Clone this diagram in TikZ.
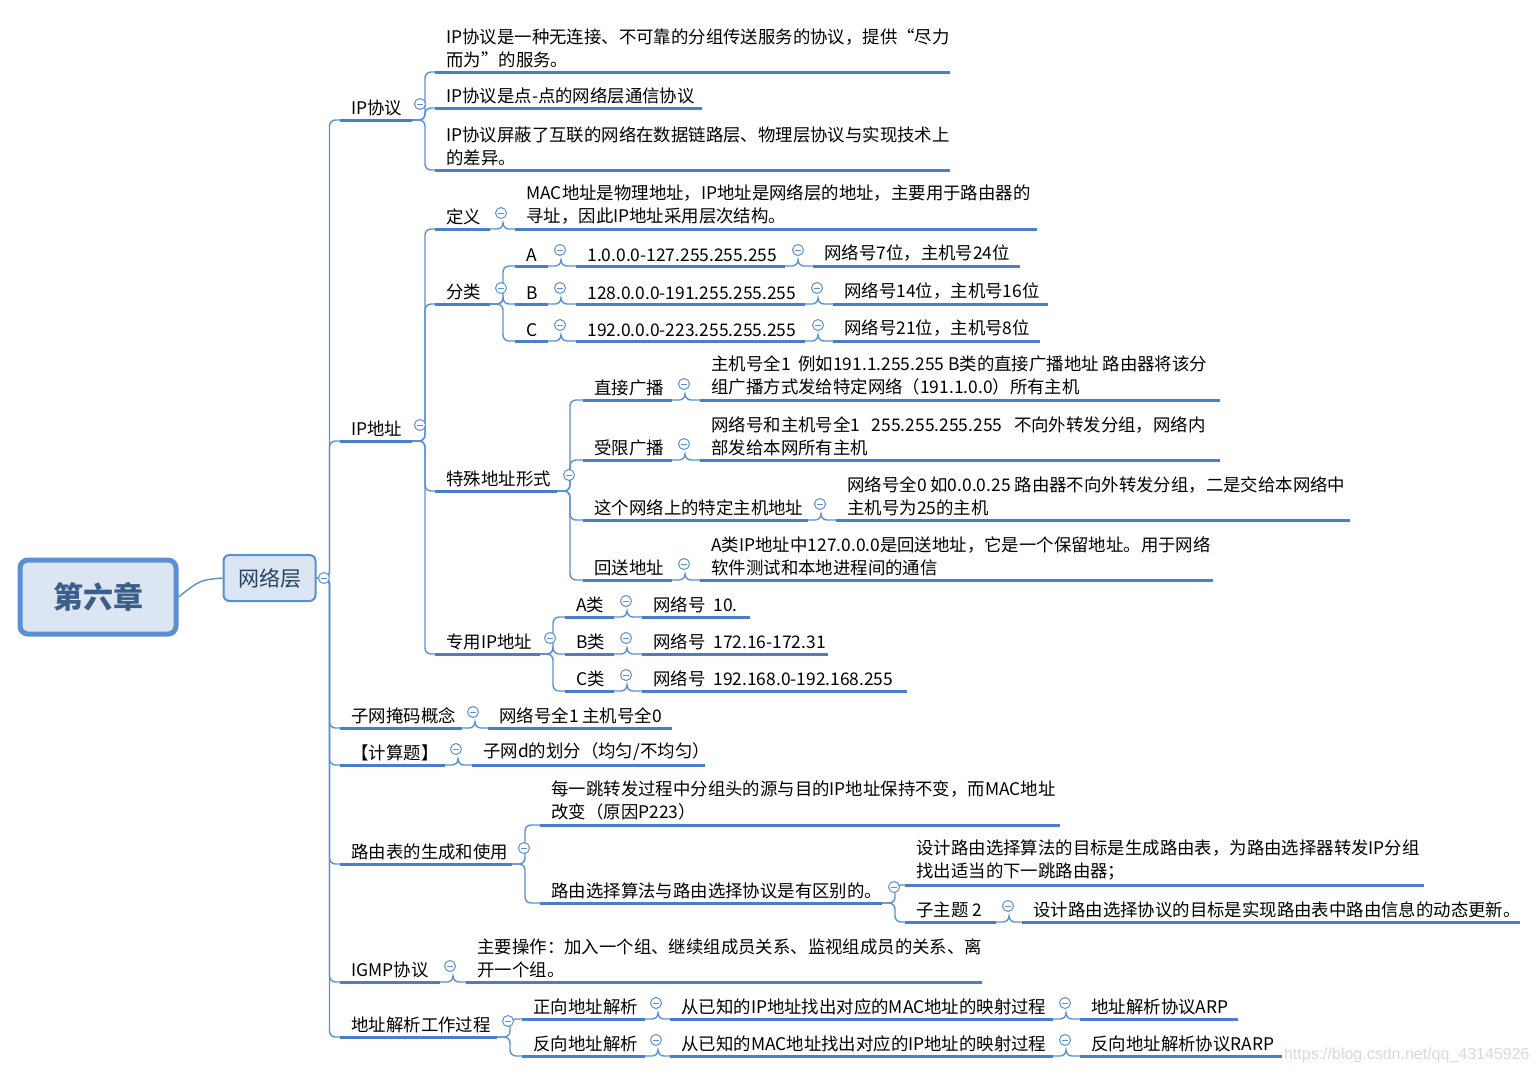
\documentclass[tikz,border=0pt]{standalone}
\usepackage{fontspec}
\setmainfont{Noto Sans CJK SC}
\newfontfamily\wmfont{Liberation Sans}
\usetikzlibrary{calc}
\definecolor{lineblue}{HTML}{5B8FD3}
\definecolor{ulblue}{HTML}{4A7EC8}
\definecolor{boxfill}{HTML}{DCE6F2}
\definecolor{titleblue}{HTML}{3B5E8C}
\tikzset{
  uline/.style={ulblue,line width=1.5pt},
  branch/.style={lineblue,line width=0.7pt,rounded corners=3pt},
  txt/.style={inner sep=0pt,anchor=south west,align=left,font=\fontsize{8.7}{11.5}\selectfont},
  coll/.style={circle,draw=lineblue,fill=white,inner sep=0pt,minimum size=5.5pt,line width=0.5pt,
    path picture={\draw[lineblue,line width=0.5pt] ([xshift=-1.4pt]path picture bounding box.center) -- ([xshift=1.4pt]path picture bounding box.center);}}
}
% topic: name, start, end, underline y, text
\newcommand\tp[5]{%
  \coordinate (#1-s) at (#2,#4);
  \coordinate (#1-e) at (#3,#4);
  \draw[uline] (#1-s) -- (#1-e);
  \node[txt] (#1) at (#2+11,#4-4) {#5};}
\newcommand\br[2]{\draw[branch] (#1-e) -- ++(13,0) |- (#2-s);}
\newcommand\cl[3]{\node[coll] (#1-c) at (#2,#3-16) {};}
\begin{document}
\begin{tikzpicture}[x=0.5pt,y=-0.5pt]
\useasboundingbox (0,0) rectangle (1540,1073);

% root and main topic
\node[draw=lineblue,line width=2.5pt,fill=boxfill,rounded corners=4pt,minimum width=78pt,minimum height=37pt,
  font=\fontsize{15}{15}\selectfont\bfseries,text=titleblue] (root) at (98,597) {第六章};
\node[draw=lineblue,line width=1pt,fill=boxfill,rounded corners=3pt,minimum width=46pt,minimum height=23pt,
  font=\fontsize{10.5}{10.5}\selectfont,text=titleblue!70!black] (net) at (269.5,578) {网络层};
\coordinate (net-e) at (net.east);
\draw[branch] (root.east) .. controls (200,580) .. (net.west);

% first level
\tp{ipp}{340}{412}{120}{IP协议}
\tp{ipa}{340}{412}{441}{IP地址}
\tp{mask}{340}{462}{728}{子网掩码概念}
\tp{calc}{340}{445}{765}{【计算题】}
\tp{rt}{340}{512}{864}{路由表的生成和使用}
\tp{igmp}{340}{440}{982}{IGMP协议}
\tp{arp}{340}{497}{1037}{地址解析工作过程}
\foreach \c in {ipp,ipa,mask,calc,rt,igmp,arp} {\br{net}{\c}}

% IP协议
\tp{p1}{435}{950}{72}{IP协议是一种无连接、不可靠的分组传送服务的协议，提供“尽力\\而为”的服务。}
\tp{p2}{435}{702}{108}{IP协议是点-点的网络层通信协议}
\tp{p3}{435}{950}{170}{IP协议屏蔽了互联的网络在数据链路层、物理层协议与实现技术上\\的差异。}
\foreach \c in {p1,p2,p3} {\br{ipp}{\c}}

% IP地址
\tp{def}{435}{490}{229}{定义}
\tp{cls}{435}{490}{304}{分类}
\tp{spc}{435}{557}{491}{特殊地址形式}
\tp{pri}{435}{540}{654}{专用IP地址}
\foreach \c in {def,cls,spc,pri} {\br{ipa}{\c}}
\tp{defd}{515}{1037}{229}{MAC地址是物理地址，IP地址是网络层的地址，主要用于路由器的\\寻址，因此IP地址采用层次结构。}
\br{def}{defd}

% 分类
\tp{ca}{515}{548}{266}{A}
\tp{cb}{515}{548}{304}{B}
\tp{cc}{515}{548}{341}{C}
\foreach \c in {ca,cb,cc} {\br{cls}{\c}}
\tp{ra}{576}{785}{266}{1.0.0.0-127.255.255.255}
\tp{rb}{576}{805}{304}{128.0.0.0-191.255.255.255}
\tp{rc}{576}{805}{341}{192.0.0.0-223.255.255.255}
\br{ca}{ra} \br{cb}{rb} \br{cc}{rc}
\tp{da}{813}{1020}{266}{网络号7位，主机号24位}
\tp{db}{833}{1048}{304}{网络号14位，主机号16位}
\tp{dc}{833}{1040}{341}{网络号21位，主机号8位}
\br{ra}{da} \br{rb}{db} \br{rc}{dc}

% 特殊地址形式
\tp{zb}{583}{672}{400}{直接广播}
\tp{xz}{583}{672}{460}{受限广播}
\tp{tz}{583}{808}{520}{这个网络上的特定主机地址}
\tp{hs}{583}{672}{580}{回送地址}
\foreach \c in {zb,xz,tz,hs} {\br{spc}{\c}}
\tp{zbd}{700}{1220}{400}{主机号全1\ \ 例如191.1.255.255 B类的直接广播地址 路由器将该分\\组广播方式发给特定网络（191.1.0.0）所有主机}
\tp{xzd}{700}{1220}{460}{网络号和主机号全1\ \ \ 255.255.255.255\ \ \ 不向外转发分组，网络内\\部发给本网所有主机}
\tp{tzd}{836}{1350}{520}{网络号全0 如0.0.0.25 路由器不向外转发分组，二是交给本网络中\\主机号为25的主机}
\tp{hsd}{700}{1213}{580}{A类IP地址中127.0.0.0是回送地址，它是一个保留地址。用于网络\\软件测试和本地进程间的通信}
\br{zb}{zbd} \br{xz}{xzd} \br{tz}{tzd} \br{hs}{hsd}

% 专用IP地址
\tp{pa}{565}{614}{617}{A类}
\tp{pb}{565}{614}{654}{B类}
\tp{pc}{565}{614}{691}{C类}
\foreach \c in {pa,pb,pc} {\br{pri}{\c}}
\tp{pad}{642}{750}{617}{网络号\ \ 10.}
\tp{pbd}{642}{828}{654}{网络号\ \ 172.16-172.31}
\tp{pcd}{642}{907}{691}{网络号\ \ 192.168.0-192.168.255}
\br{pa}{pad} \br{pb}{pbd} \br{pc}{pcd}

% 子网掩码, 计算题
\tp{maskd}{488}{672}{728}{网络号全1 主机号全0}
\br{mask}{maskd}
\tp{calcd}{472}{705}{765}{子网d的划分（均匀/不均匀）}
\br{calc}{calcd}

% 路由表
\tp{r1}{540}{1060}{825}{每一跳转发过程中分组头的源与目的IP地址保持不变，而MAC地址\\改变（原因P223）}
\tp{r2}{540}{882}{903}{路由选择算法与路由选择协议是有区别的。}
\br{rt}{r1} \br{rt}{r2}
\tp{r21}{905}{1424}{885}{设计路由选择算法的目标是生成路由表，为路由选择器转发IP分组\\找出适当的下一跳路由器；}
\tp{r22}{905}{996}{922}{子主题 2}
\br{r2}{r21} \br{r2}{r22}
\tp{r22d}{1022}{1520}{922}{设计路由选择协议的目标是实现路由表中路由信息的动态更新。}
\br{r22}{r22d}

% IGMP
\tp{igmpd}{466}{982}{982}{主要操作：加入一个组、继续组成员关系、监视组成员的关系、离\\开一个组。}
\br{igmp}{igmpd}

% 地址解析
\tp{fw}{522}{645}{1019}{正向地址解析}
\tp{bw}{522}{645}{1056}{反向地址解析}
\br{arp}{fw} \br{arp}{bw}
\tp{fwd}{670}{1053}{1019}{从已知的IP地址找出对应的MAC地址的映射过程}
\tp{bwd}{670}{1053}{1056}{从已知的MAC地址找出对应的IP地址的映射过程}
\br{fw}{fwd} \br{bw}{bwd}
\tp{fwp}{1080}{1238}{1019}{地址解析协议ARP}
\tp{bwp}{1080}{1282}{1056}{反向地址解析协议RARP}
\br{fwd}{fwp} \br{bwd}{bwp}

% collapse marks
\node[coll] at (324,578) {};
\cl{ipp}{420}{120} \cl{ipa}{420}{441} \cl{mask}{473}{728} \cl{calc}{456}{765}
\cl{rt}{524}{864} \cl{igmp}{450}{982} \cl{arp}{508}{1037}
\cl{def}{501}{229} \cl{cls}{501}{304} \cl{spc}{569}{491} \cl{pri}{550}{654}
\cl{ca}{560}{266} \cl{cb}{560}{304} \cl{cc}{560}{341}
\cl{ra}{798}{266} \cl{rb}{817}{304} \cl{rc}{818}{341}
\cl{zb}{684}{400} \cl{xz}{684}{460} \cl{tz}{820}{520} \cl{hs}{684}{580}
\cl{pa}{626}{617} \cl{pb}{626}{654} \cl{pc}{626}{691}
\cl{r2}{894}{903} \cl{r22}{1008}{922}
\cl{fw}{656}{1019} \cl{bw}{656}{1056} \cl{fwd}{1065}{1019} \cl{bwd}{1065}{1056}

\node[inner sep=0pt,anchor=east,text=black!15,font=\wmfont\fontsize{8}{8}\selectfont] (wm) at (1530,1055) {https://blog.csdn.net/qq\_43145926};
\end{tikzpicture}
\end{document}
